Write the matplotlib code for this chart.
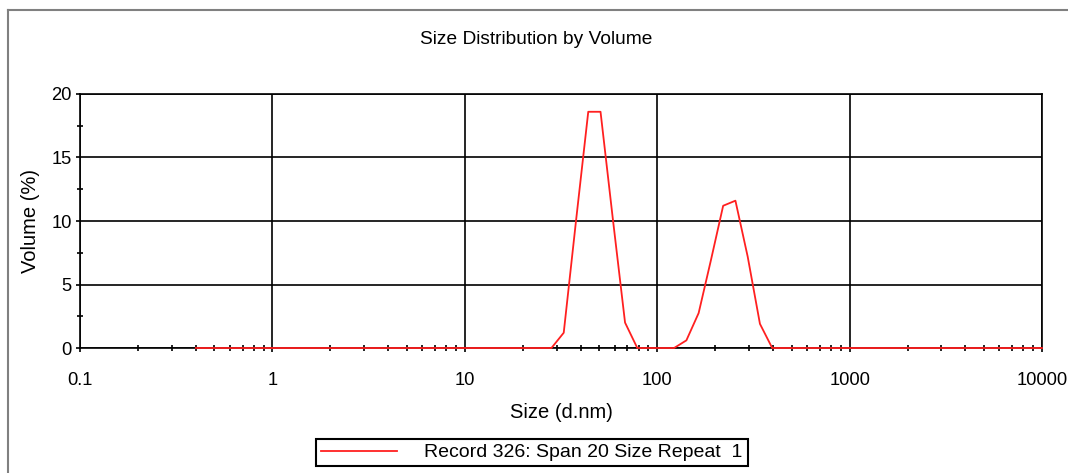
import matplotlib
matplotlib.use("Agg")
import matplotlib.pyplot as plt
from matplotlib.lines import Line2D
from matplotlib.ticker import LogLocator, FixedLocator, NullFormatter
import numpy as np

plt.rcParams['font.family'] = ['Liberation Sans', 'DejaVu Sans']

# size classes (d.nm) and volume (%)
sizes = [0.4, 0.4632, 0.5365, 0.6213, 0.7195, 0.8332, 0.9649, 1.117, 1.294, 1.499,
         1.736, 2.010, 2.328, 2.696, 3.122, 3.615, 4.187, 4.849, 5.615, 6.503,
         7.531, 8.721, 10.10, 11.70, 13.54, 15.69, 18.17, 21.04, 24.36, 28.21,
         32.67, 37.84, 43.82, 50.75, 58.77, 68.06, 78.82, 91.28, 105.7, 122.4,
         141.8, 164.2, 190.1, 220.2, 255.0, 295.3, 342.0, 396.1, 458.7, 531.2,
         615.1, 712.4, 825.0, 955.4, 1106, 1281, 1484, 1718, 1990, 2305,
         2669, 3091, 3580, 4145, 4801, 5560, 6439, 7456, 8635, 10000]
volume = [0, 0, 0, 0, 0, 0, 0, 0, 0, 0,
          0, 0, 0, 0, 0, 0, 0, 0, 0, 0,
          0, 0, 0, 0, 0, 0, 0, 0, 0, 0,
          1.2, 10.0, 18.6, 18.6, 10.2, 2.0, 0, 0, 0, 0,
          0.6, 2.75, 6.9, 11.2, 11.6, 7.2, 1.9, 0, 0, 0,
          0, 0, 0, 0, 0, 0, 0, 0, 0, 0,
          0, 0, 0, 0, 0, 0, 0, 0, 0, 0]
xticks = [0.1, 1, 10, 100, 1000, 10000]
xlabels = ['0.1', '1', '10', '100', '1000', '10000']
yticks = [0, 5, 10, 15, 20]

fig = plt.figure(figsize=(10.68, 4.73), dpi=100)
ax = fig.add_axes([80/1068, 1-348/473, 962/1068, 254/473])

ax.plot(sizes, volume, color='#ff2020', lw=1.3, clip_on=False,
        label='Record 326: Span 20 Size Repeat  1', zorder=4)

ax.set_xscale('log')
ax.set_xlim(0.1, 10000)
ax.set_ylim(0, 20)
ax.set_xticks(xticks)
ax.set_xticklabels(xlabels)
ax.set_yticks(yticks)
ax.xaxis.set_minor_locator(LogLocator(base=10, subs=np.arange(2, 10), numticks=20))
ax.xaxis.set_minor_formatter(NullFormatter())
ax.yaxis.set_minor_locator(FixedLocator([2.5, 7.5, 12.5, 17.5]))

ax.grid(True, which='major', color='black', lw=1.2)
ax.set_axisbelow(True)
for s in ax.spines.values():
    s.set_color('black')
    s.set_linewidth(1.2)
ax.tick_params(which='major', direction='out', length=3, width=1.2, labelsize=13.2)
ax.tick_params(which='minor', direction='inout', length=5, width=1.2)
ax.tick_params(axis='x', which='major', pad=14)
ax.tick_params(axis='y', which='major', pad=3)

fig.text(536/1068, 1-40/473, 'Size Distribution by Volume', fontsize=13.8,
         ha='center', va='center')
ax.set_xlabel('Size (d.nm)', fontsize=14.5, labelpad=10)
ax.set_ylabel('Volume (%)', fontsize=14.5, labelpad=8)

fig.legend(loc='center', bbox_to_anchor=(532/1068, 1-452.5/473), fontsize=14,
           handlelength=3.9, handletextpad=1.4, borderpad=0.25,
           frameon=True, fancybox=False, edgecolor='black', framealpha=1)
leg = fig.legends[0]
leg.get_frame().set_linewidth(1.5)

# outer frame lines (top and left)
fig.add_artist(Line2D([8/1068, 8/1068], [0, 1-10/473], transform=fig.transFigure,
                      color='#808080', lw=1.5))
fig.add_artist(Line2D([8/1068, 1], [1-10/473, 1-10/473], transform=fig.transFigure,
                      color='#808080', lw=1.5))

fig.savefig('out.png', dpi=100)
